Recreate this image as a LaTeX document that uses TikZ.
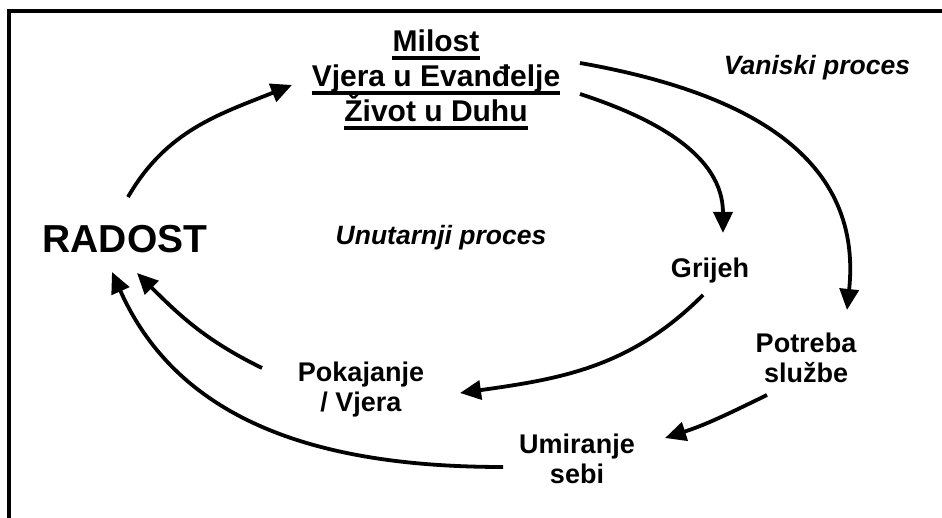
\documentclass[tikz,border=0pt]{standalone}
\usepackage{fontspec}
\setmainfont{Liberation Sans}
\usetikzlibrary{arrows.meta}
\begin{document}
\begin{tikzpicture}[x=1pt,y=1pt,
  lab/.style={font=\bfseries\fontsize{27}{30}\selectfont, align=center, inner sep=0pt},
  ttl/.style={font=\bfseries\fontsize{30}{35}\selectfont, inner sep=0pt, anchor=base},
  ital/.style={font=\bfseries\itshape\fontsize{26.5}{30}\selectfont, inner sep=0pt, anchor=base},
  uln/.style={line width=3.2pt},
  arr/.style={line width=3.8pt, -{Triangle[length=21pt,width=19pt]}},
  frame/.style={line width=3.6pt}]
\useasboundingbox (0,0) rectangle (942,518);
\fill[white] (0,0) rectangle (942,518);
% frame
\coordinate (ftl) at (9,507);
\coordinate (ftr) at (942,507);
\coordinate (fbl) at (9,0);
\draw[frame] (fbl) -- (ftl) -- (ftr);
% nodes
\node[ttl] (m1) at (436,466) {Milost};
\node[ttl] (m2) at (436,431) {Vjera u Evanđelje};
\node[ttl] (m3) at (436,396) {Život u Duhu};
\foreach \n in {m1,m2,m3}
  \draw[uln] ([yshift=-6pt]\n.base west) -- ([yshift=-6pt]\n.base east);
\node[font=\bfseries\fontsize{39}{45}\selectfont, inner sep=0pt] (rad) at (125,279) {RADOST};
\node[ital] (van) at (817,443) {Vaniski proces};
\node[ital] (unu) at (441,273) {Unutarnji proces};
\node[lab, anchor=base] (gri) at (710,240) {Grijeh};
\node[lab] (pot) at (806,160) {Potreba\\službe};
\node[lab] (pok) at (361,128) {Pokajanje\\/ Vjera};
\node[lab] (umi) at (577,59) {Umiranje\\sebi};
% connectors
\draw[arr] ([shift={(3,42)}]rad.center) to[out=60,in=202] ([shift={(-144,2)}]m2.base);
\draw[arr] ([shift={(144,24)}]m2.base) to[out=-10,in=84,looseness=1.12] ([shift={(41,48)}]pot.center);
\draw[arr] ([shift={(144,-7)}]m2.base) to[out=-18,in=90] ([shift={(13,45)}]gri.base);
\draw[arr] ([shift={(-7,-17)}]gri.base) to[out=225,in=8] ([shift={(99,-3)}]pok.center);
\draw[arr] ([shift={(-39,-37)}]pot.center) to[out=206,in=18] ([shift={(88,21)}]umi.center);
\draw[arr] ([shift={(-99,22)}]pok.center) to[out=154,in=-45] ([shift={(12,-34)}]rad.center);
\draw[arr] ([shift={(-74,-8)}]umi.center) to[out=180,in=-66] ([shift={(-13,-33)}]rad.center);
\end{tikzpicture}
\end{document}
